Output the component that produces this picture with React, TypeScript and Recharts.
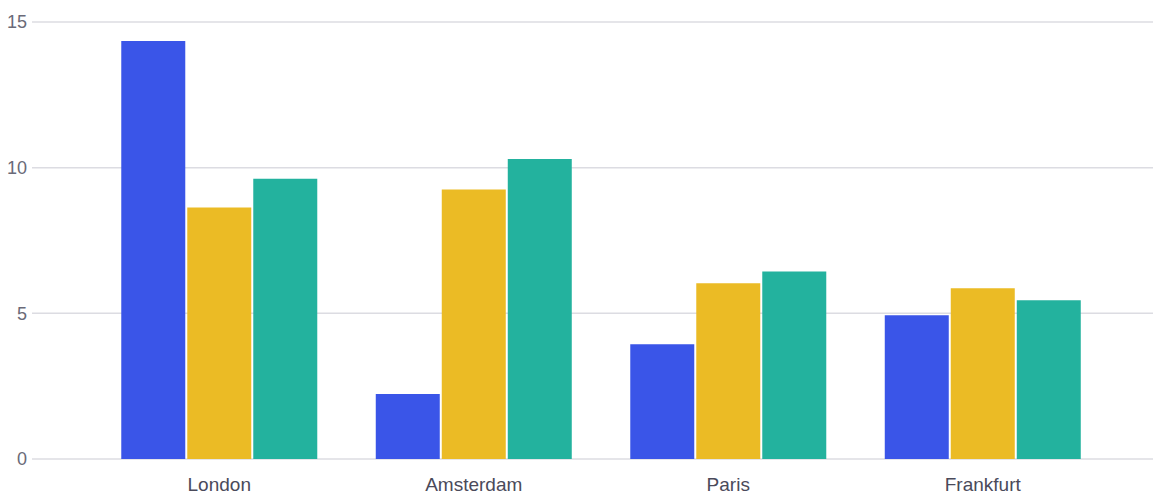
import React from "react";
import { BarChart, Bar, XAxis, YAxis, CartesianGrid } from "recharts";

const cities = ["London", "Amsterdam", "Paris", "Frankfurt"];
const seriesA = [14.35, 2.23, 3.94, 4.93];
const seriesB = [8.63, 9.25, 6.03, 5.86];
const seriesC = [9.62, 10.3, 6.44, 5.45];
const yTicks = [0, 5, 10, 15];

const data = cities.map((c, i) => ({ city: c, a: seriesA[i], b: seriesB[i], c: seriesC[i] }));

export default function App() {
  return (
    <div style={{ position: "absolute", left: 0, top: 0, background: "#fff" }}>
      <BarChart
        width={1153}
        height={495}
        data={data}
        margin={{ top: 22, right: 0, bottom: 0, left: 0 }}
        barCategoryGap="11.5%"
        barGap={2}
      >
        <CartesianGrid vertical={false} stroke="#dcdce2" strokeWidth={1.5} />
        <XAxis
          dataKey="city"
          axisLine={false}
          tickLine={false}
          tickSize={0}
          tickMargin={19}
          height={36}
          padding={{ left: 60, right: 43 }}
          tick={{ fill: "#4a4a5a", fontSize: 19, fontFamily: "Liberation Sans, Arial, sans-serif" }}
          interval={0}
        />
        <YAxis
          domain={[0, 15]}
          ticks={yTicks}
          axisLine={false}
          tickLine={false}
          tickSize={0}
          tickMargin={5}
          width={32}
          tick={{ fill: "#6a6a78", fontSize: 18, fontFamily: "Liberation Sans, Arial, sans-serif" }}
        />
        <Bar dataKey="a" fill="#3a55e8" isAnimationActive={false} />
        <Bar dataKey="b" fill="#ebbb25" isAnimationActive={false} />
        <Bar dataKey="c" fill="#23b29e" isAnimationActive={false} />
      </BarChart>
    </div>
  );
}
